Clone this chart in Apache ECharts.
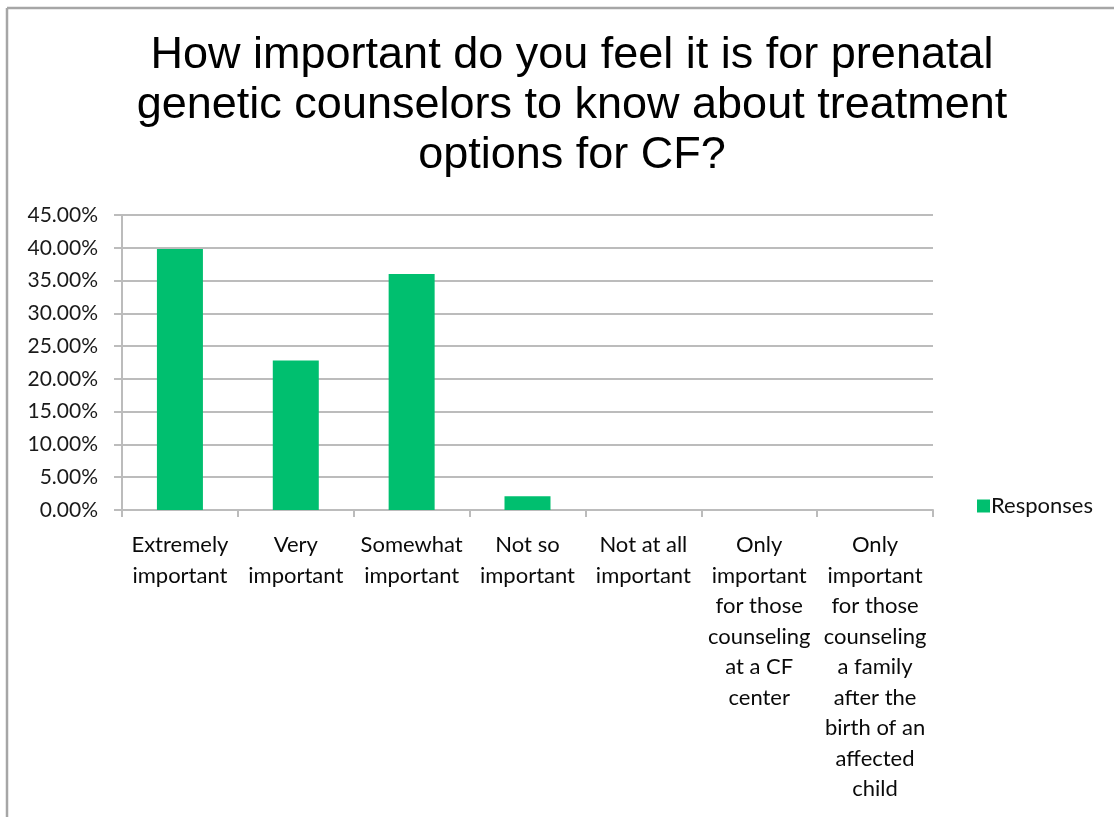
<!DOCTYPE html>
<html>
<head>
<meta charset="utf-8">
<title>Treatment options for CF</title>
<script src="https://cdn.jsdelivr.net/npm/echarts@6/dist/echarts.min.js"></script>
<style>
  html, body { margin: 0; padding: 0; background: #ffffff; }
  #chart { width: 1114px; height: 817px; }
</style>
</head>
<body>
<div id="chart"></div>
<script>
// Survey answers (share of respondents, in percent)
const categories = [
  'Extremely\nimportant',
  'Very\nimportant',
  'Somewhat\nimportant',
  'Not so\nimportant',
  'Not at all\nimportant',
  'Only\nimportant\nfor those\ncounseling\nat a CF\ncenter',
  'Only\nimportant\nfor those\ncounseling\na family\nafter the\nbirth of an\naffected\nchild'
];
const responses = [39.8, 22.8, 36.0, 2.1, 0, 0, 0];
const seriesName = 'Responses';
const titleText = 'How important do you feel it is for prenatal\ngenetic counselors to know about treatment\noptions for CF?';

const chart = echarts.init(document.getElementById('chart'));
const gray = '#bcbcbc';

chart.setOption({
  animation: false,
  backgroundColor: '#ffffff',
  title: {
    text: titleText,
    left: 567,
    textAlign: 'center',
    top: 26,
    textStyle: {
      fontFamily: 'Liberation Sans',
      fontSize: 45,
      fontWeight: 'normal',
      lineHeight: 50,
      color: '#000000'
    }
  },
  legend: {
    data: [seriesName],
    orient: 'vertical',
    left: 972,
    top: 490,
    itemWidth: 13,
    itemHeight: 13,
    itemGap: 6,
    icon: 'rect',
    textStyle: { fontFamily: 'Lato', fontSize: 22, color: '#111111', padding: [0, 0, 0, -4] }
  },
  grid: { left: 122, right: 181, top: 215, bottom: 307, containLabel: false },
  xAxis: {
    type: 'category',
    data: categories,
    axisLine: { lineStyle: { color: gray, width: 2 } },
    axisTick: { show: true, length: 7, lineStyle: { color: gray, width: 2 } },
    axisLabel: {
      interval: 0,
      margin: 20,
      fontFamily: 'Lato',
      fontSize: 22,
      lineHeight: 30.5,
      color: '#0a0a0a',
      align: 'center'
    }
  },
  yAxis: {
    type: 'value',
    min: 0,
    max: 45,
    interval: 5,
    axisLine: { show: true, lineStyle: { color: gray, width: 2 } },
    axisTick: { show: true, length: 8, lineStyle: { color: gray, width: 2 } },
    splitLine: { lineStyle: { color: gray, width: 2 } },
    axisLabel: {
      margin: 24,
      fontFamily: 'Lato',
      fontSize: 21,
      color: '#1a1a1a',
      formatter: v => v.toFixed(2) + '%'
    }
  },
  series: [{
    name: seriesName,
    type: 'bar',
    data: responses,
    barWidth: 46,
    itemStyle: { color: '#00bf6f' }
  }],
  graphic: [
    { type: 'line', shape: { x1: 7, y1: 8, x2: 1114, y2: 8 }, style: { stroke: '#a6a6a6', lineWidth: 2.5 } },
    { type: 'line', shape: { x1: 7, y1: 8, x2: 7, y2: 817 }, style: { stroke: '#a6a6a6', lineWidth: 2.5 } }
  ]
});
</script>
</body>
</html>
